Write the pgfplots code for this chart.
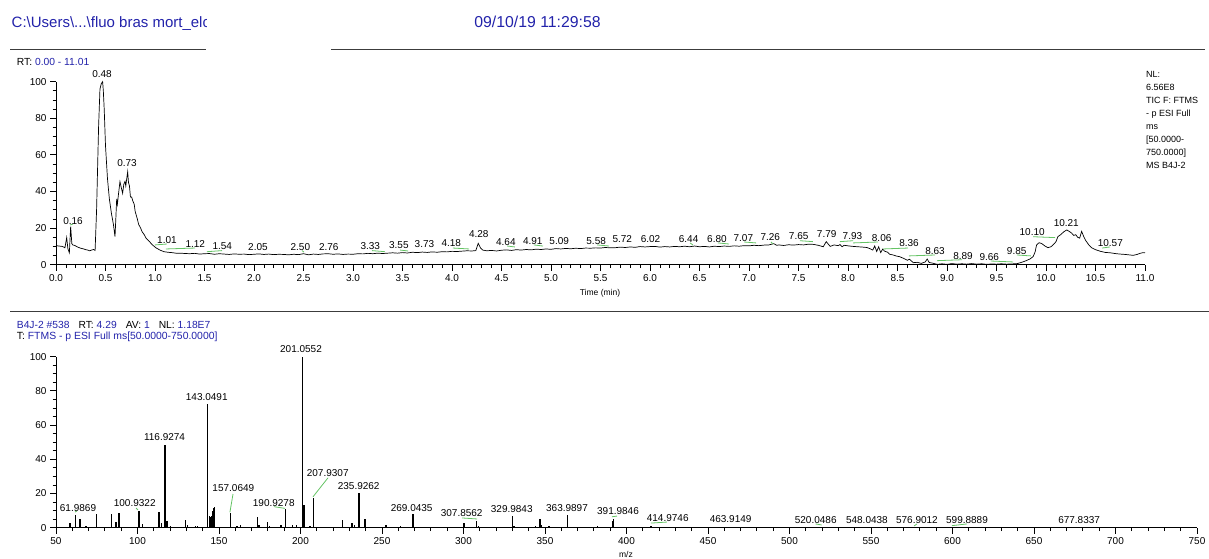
\documentclass[border=0pt]{standalone}
\usepackage{pgfplots}
\pgfplotsset{compat=1.18}
\usepackage{fontspec}
\setmainfont{Liberation Sans}
\definecolor{xblue}{RGB}{34,34,170}
\definecolor{xgreen}{RGB}{100,195,100}
\definecolor{xline}{RGB}{60,60,60}

\pgfplotsset{
  xcal/.style={
    scale only axis,
    axis x line=bottom, axis y line=left,
    axis line style={-, line width=0.8pt},
    tick align=outside,
    major tick length=6pt, minor tick length=3.5pt,
    every tick/.style={black, line width=0.8pt},
    tick label style={font=\fontsize{10}{12}\selectfont},
    /pgf/number format/assume math mode=true,
    ymin=0, ymax=100, ytick={0,20,40,60,80,100}, minor y tick num=3,
    clip=false,
  },
}
\tikzset{
  lbl/.style={font=\fontsize{10}{12}\selectfont, inner sep=0pt, anchor=center},
  gl/.style={xgreen, line width=0.8pt},
}

\begin{document}
\begin{tikzpicture}
\useasboundingbox (0pt,0pt) rectangle (1209pt,559pt);

% ---------- header ----------
\begin{scope}
\clip (0pt,515pt) rectangle (206pt,559pt);
\node[anchor=base west, inner sep=0pt, font=\fontsize{15}{18}\selectfont, text=xblue] at (11.5pt,531.7pt) {C:\textbackslash Users\textbackslash ...\textbackslash fluo bras mort\_elc};
\end{scope}
\node[anchor=base, inner sep=0pt, font=\fontsize{15.8}{18}\selectfont, text=xblue] at (537.5pt,531.7pt) {09/10/19 11:29:58};
\draw[xline, line width=0.8pt] (10pt,510pt) -- (206pt,510pt);
\draw[xline, line width=0.8pt] (331pt,510pt) -- (1205pt,510pt);
\draw[xline, line width=0.8pt] (10pt,248pt) -- (1209pt,248pt);

\node[anchor=base west, inner sep=0pt, font=\fontsize{10.3}{12}\selectfont] at (16.7pt,493.5pt) {RT:\ \textcolor{xblue}{0.00 - 11.01}};

\begin{scope}[every node/.style={anchor=base west, inner sep=0pt, font=\fontsize{9}{11}\selectfont}]
\node at (1146pt,481.5pt) {NL:};
\node at (1146pt,468.8pt) {6.56E8};
\node at (1146pt,455.3pt) {TIC F: FTMS};
\node at (1146pt,442.0pt) {- p ESI Full};
\node at (1146pt,429.0pt) {ms};
\node at (1146pt,416.2pt) {[50.0000-};
\node at (1146pt,403.4pt) {750.0000]};
\node at (1146pt,390.8pt) {MS B4J-2};
\end{scope}

\node[inner sep=0pt, font=\fontsize{8.5}{10}\selectfont] at (600pt,266pt) {Time (min)};

\node[anchor=base west, inner sep=0pt, font=\fontsize{10.3}{12}\selectfont] at (16.7pt,230.5pt) {\textcolor{xblue}{B4J-2 \#538}\hspace{9pt}RT:\ \textcolor{xblue}{4.29}\hspace{9pt}AV:\ \textcolor{xblue}{1}\hspace{9pt}NL:\ \textcolor{xblue}{1.18E7}};
\node[anchor=base west, inner sep=0pt, font=\fontsize{10.4}{12}\selectfont] at (16.7pt,219pt) {T:\ \textcolor{xblue}{FTMS - p ESI Full ms[50.0000-750.0000]}};

\node[inner sep=0pt, font=\fontsize{8.5}{10}\selectfont] at (626pt,5pt) {m/z};

% ---------- chromatogram ----------
\begin{axis}[xcal, at={(56pt,294.3pt)}, anchor=south west,
  width=1089pt, height=183pt, xmin=0, xmax=11,
  xtick={0,0.5,1,1.5,2,2.5,3,3.5,4,4.5,5,5.5,6,6.5,7,7.5,8,8.5,9,9.5,10,10.5,11},
  minor x tick num=4,
  xticklabel style={/pgf/number format/.cd, fixed, fixed zerofill, precision=1}]
\addplot[black, line width=0.7pt, mark=none] coordinates {
(0.00,10.4)(0.03,10.2)(0.06,10.0)(0.08,9.6)(0.09,9.2)(0.108,14.8)(0.12,8.8)(0.135,6.5)
(0.148,20.8)(0.16,11.5)(0.17,10.8)(0.19,10.5)(0.22,9.6)(0.25,9.0)(0.28,8.6)(0.30,8.2)
(0.32,8.0)(0.34,7.6)(0.36,8.0)(0.38,8.3)(0.395,7.8)(0.41,30)(0.43,75)(0.444,96)
(0.458,99)(0.471,100)(0.478,95)(0.487,85)(0.50,65)(0.52,47)(0.539,36)(0.56,28)
(0.58,22)(0.596,15.3)(0.605,26)(0.613,36)(0.62,33)(0.63,38)(0.646,45.4)(0.66,42)
(0.673,39)(0.685,44)(0.697,45.5)(0.705,43)(0.712,46)(0.724,50.8)(0.732,45)(0.742,43)
(0.752,37)(0.764,37)(0.775,35)(0.79,33)(0.80,29)(0.82,25.3)(0.835,22)(0.855,20)
(0.87,18)(0.89,16.5)(0.91,14.5)(0.94,12.9)(0.97,11)(1.01,9.2)(1.05,8)(1.09,7.1)
(1.13,6.8)(1.17,6.6)(1.21,6.3)(1.28,6.2)(1.35,6.0)(1.40,6.2)(1.45,5.8)(1.50,6.0)
(1.55,6.1)(1.60,5.7)(1.65,6.0)(1.70,5.8)(1.75,5.6)(1.80,5.9)(1.85,5.7)(1.90,5.8)
(1.95,5.5)(2.00,5.7)(2.05,5.9)(2.10,5.6)(2.15,5.8)(2.20,5.5)(2.25,5.7)(2.30,5.6)
(2.35,5.4)(2.40,5.7)(2.45,5.5)(2.50,6.0)(2.55,5.4)(2.60,5.8)(2.65,5.6)(2.70,5.9)
(2.75,6.0)(2.80,5.7)(2.85,5.9)(2.90,5.6)(2.95,5.8)(3.00,5.7)(3.05,6.0)(3.10,5.9)
(3.15,6.2)(3.20,6.0)(3.25,6.3)(3.30,6.1)(3.35,6.3)(3.40,6.5)(3.45,6.3)(3.50,6.6)
(3.55,6.4)(3.60,6.8)(3.65,6.6)(3.70,6.9)(3.75,6.7)(3.80,7.0)(3.85,6.8)(3.90,7.1)
(3.95,7.0)(4.00,7.3)(4.05,7.2)(4.10,7.4)(4.15,7.6)(4.20,7.5)(4.24,7.7)(4.265,11.7)
(4.29,9.0)(4.31,8.0)(4.35,7.6)(4.40,7.8)(4.45,7.5)(4.50,7.9)(4.55,8.1)(4.60,7.8)
(4.65,8.2)(4.70,8.0)(4.75,8.3)(4.80,8.1)(4.85,8.5)(4.90,8.3)(4.95,8.6)(5.00,8.4)
(5.05,8.8)(5.10,8.6)(5.15,8.9)(5.20,8.7)(5.25,9.0)(5.30,8.8)(5.35,9.1)(5.40,9.0)
(5.45,9.2)(5.50,9.1)(5.55,9.4)(5.60,9.2)(5.65,9.3)(5.70,9.6)(5.75,9.4)(5.80,9.7)
(5.85,9.5)(5.90,9.9)(5.95,9.7)(6.00,9.9)(6.05,10.0)(6.10,9.6)(6.15,9.9)(6.20,9.7)
(6.25,10.0)(6.30,9.8)(6.35,10.1)(6.40,9.8)(6.45,10.2)(6.50,9.8)(6.55,10.0)(6.60,9.7)
(6.65,10.1)(6.70,9.9)(6.75,10.2)(6.80,10.0)(6.85,10.3)(6.90,10.1)(6.95,10.4)(7.00,10.3)
(7.05,10.6)(7.10,10.4)(7.15,10.7)(7.20,10.8)(7.25,11.5)(7.28,10.6)(7.30,10.8)(7.35,10.5)
(7.40,10.9)(7.45,10.7)(7.50,11.0)(7.55,10.8)(7.60,11.2)(7.65,11.1)(7.70,10.6)(7.75,9.8)
(7.78,12.6)(7.82,10.0)(7.86,10.8)(7.90,10.4)(7.92,11.0)(7.94,9.8)(7.96,10.6)(8.00,10.3)
(8.05,10.0)(8.10,9.8)(8.15,9.6)(8.19,9.4)(8.22,8.8)(8.25,8.0)(8.27,10.2)(8.29,7.2)
(8.31,9.8)(8.33,6.6)(8.35,8.5)(8.37,7.4)(8.40,6.8)(8.42,5.7)(8.45,5.4)(8.49,4.7)
(8.52,4.4)(8.56,3.5)(8.60,2.4)(8.62,3.0)(8.66,1.1)(8.70,1.3)(8.74,0.7)(8.78,1.5)
(8.80,3.1)(8.82,1.2)(8.85,0.9)(8.90,0.2)(8.95,0.5)(9.00,0.2)(9.05,0.6)(9.10,0.3)
(9.15,0.5)(9.20,0.3)(9.25,0.6)(9.30,0.3)(9.35,0.5)(9.40,0.2)(9.45,0.4)(9.50,0.3)
(9.55,0.5)(9.60,0.3)(9.65,0.4)(9.71,0.6)(9.76,1.4)(9.80,2.2)(9.84,3.2)(9.87,4.4)
(9.89,7.0)(9.905,10.8)(9.93,12.0)(9.955,11.6)(9.99,10.2)(10.02,9.3)(10.05,9.8)(10.07,10.8)
(10.10,12.5)(10.12,15.3)(10.15,16.5)(10.18,18.0)(10.21,19.0)(10.24,18.0)(10.26,17.2)(10.28,16.0)
(10.30,16.4)(10.32,15.0)(10.34,14.5)(10.36,18.2)(10.38,15.5)(10.40,13.3)(10.43,11.0)(10.46,9.3)
(10.50,8.2)(10.55,7.3)(10.60,6.7)(10.65,6.5)(10.71,6.0)(10.75,5.8)(10.80,5.6)(10.85,5.3)
(10.88,5.1)(10.92,5.6)(10.95,6.2)(10.98,6.6)(11.00,6.5)
};
% green leader lines
\draw[gl] (0.141,21.7) -- (0.172,22.2);
\draw[gl] (1.0,10.8) -- (1.121,11.3);
\draw[gl] (1.111,8.6) -- (1.404,9.1);
\draw[gl] (1.525,7.1) -- (1.677,7.7);
\draw[gl] (2.485,7.7) -- (2.505,6.9);
\draw[gl] (3.192,7.7) -- (3.323,7.1);
\draw[gl] (3.475,8.0) -- (3.556,7.5);
\draw[gl] (4.01,9.1) -- (4.172,8.6);
\draw[gl] (4.556,10.2) -- (4.636,9.7);
\draw[gl] (4.828,10.8) -- (4.919,10.2);
\draw[gl] (5.465,10.8) -- (5.586,10.2);
\draw[gl] (6.404,11.9) -- (6.434,10.8);
\draw[gl] (6.687,11.9) -- (6.798,11.3);
\draw[gl] (6.95,12.4) -- (7.071,11.9);
\draw[gl] (7.222,12.4) -- (7.242,11.3);
\draw[gl] (7.515,13.1) -- (7.646,12.6);
\draw[gl] (7.919,12.6) -- (8.051,13.1);
\draw[gl] (8.051,11.9) -- (8.303,12.4);
\draw[gl] (8.354,8.6) -- (8.606,9.1);
\draw[gl] (8.616,4.8) -- (8.879,5.3);
\draw[gl] (8.899,2.2) -- (9.152,2.7);
\draw[gl] (9.444,2.0) -- (9.667,1.5);
\draw[gl] (9.707,5.3) -- (9.848,4.8);
\draw[gl] (9.869,15.3) -- (10.091,14.8);
\draw[gl] (10.566,9.1) -- (10.646,9.7);
% peak labels
\node[lbl] at (0.465,104.2) {0.48};
\node[lbl] at (0.717,55.6) {0.73};
\node[lbl] at (0.172,23.9) {0.16};
\node[lbl] at (1.121,13.5) {1.01};
\node[lbl] at (1.407,11.3) {1.12};
\node[lbl] at (1.68,10.4) {1.54};
\node[lbl] at (2.04,9.8) {2.05};
\node[lbl] at (2.468,9.8) {2.50};
\node[lbl] at (2.755,9.8) {2.76};
\node[lbl] at (3.175,10.4) {3.33};
\node[lbl] at (3.463,10.8) {3.55};
\node[lbl] at (3.722,11.1) {3.73};
\node[lbl] at (3.993,11.7) {4.18};
\node[lbl] at (4.271,16.6) {4.28};
\node[lbl] at (4.544,12.6) {4.64};
\node[lbl] at (4.816,13.1) {4.91};
\node[lbl] at (5.083,13.1) {5.09};
\node[lbl] at (5.456,13.1) {5.58};
\node[lbl] at (5.72,14.0) {5.72};
\node[lbl] at (6.005,14.0) {6.02};
\node[lbl] at (6.39,14.0) {6.44};
\node[lbl] at (6.676,14.0) {6.80};
\node[lbl] at (6.943,14.8) {7.07};
\node[lbl] at (7.215,15.3) {7.26};
\node[lbl] at (7.502,15.8) {7.65};
\node[lbl] at (7.785,16.8) {7.79};
\node[lbl] at (8.045,15.8) {7.93};
\node[lbl] at (8.34,14.8) {8.06};
\node[lbl] at (8.616,11.7) {8.36};
\node[lbl] at (8.879,7.7) {8.63};
\node[lbl] at (9.162,4.8) {8.89};
\node[lbl] at (9.427,4.4) {9.66};
\node[lbl] at (9.704,7.5) {9.85};
\node[lbl] at (9.86,18.0) {10.10};
\node[lbl] at (10.205,23.0) {10.21};
\node[lbl] at (10.65,12.0) {10.57};
\end{axis}

% ---------- spectrum ----------
\begin{axis}[xcal, at={(56pt,31.3pt)}, anchor=south west,
  width=1141pt, height=171pt, xmin=50, xmax=750,
  xtick={50,100,150,200,250,300,350,400,450,500,550,600,650,700,750},
  minor x tick num=4]
% baseline noise
\addplot[ycomb, black, line width=0.7pt, mark=none] coordinates {
(52,0.5)(55,0.4)(57,0.6)(60,0.5)(63,0.4)(66,0.6)(70,0.5)(72,0.4)(77,0.5)(79,0.6)
(81,0.4)(83,0.5)(90,0.5)(92,0.4)(94,0.6)(96,0.5)(98,0.4)(105,0.6)(107,0.5)(109,0.4)
(111,0.6)(122,0.5)(124,0.4)(126,0.6)(128,0.5)(132,0.5)(134,0.4)(139,0.6)(141,0.5)(149,0.6)
(151,0.4)(153,0.5)(155,0.6)(159,0.5)(165,0.5)(167,0.6)(169,0.4)(171,0.5)(176,0.5)(178,0.6)
(183,0.4)(185,0.5)(187,0.6)(193,0.5)(199,0.6)(204,0.5)(210,0.6)(212,0.4)(214,0.5)(216,0.6)
(218,0.4)(220,0.5)(222,0.6)(224,0.4)(228,0.5)(230,0.6)(237,0.5)(242,0.6)(244,0.4)(246,0.5)
(248,0.6)(250,0.4)(255,0.5)(258,0.6)(264,0.5)(266,0.4)(272,0.5)(275,0.6)(278,0.4)(281,0.5)
(284,0.6)(287,0.5)(290,0.4)(293,0.6)(296,0.5)(303,0.5)(312,0.6)(315,0.4)(318,0.5)(321,0.6)
(324,0.4)(327,0.5)(334,0.6)(337,0.5)(340,0.4)(342,0.6)(350,0.5)(356,0.6)(359,0.4)(361,0.5)
(366,0.6)(369,0.5)(372,0.4)(375,0.6)(378,0.5)(385,0.5)(388,0.6)(395,0.5)(398,0.4)(401,0.6)
(404,0.5)(407,0.4)(410,0.6)(413,0.5)(418,0.5)(422,0.4)(426,0.5)(430,0.6)(435,0.4)(440,0.5)
(448,0.4)(455,0.5)(462,0.4)(470,0.5)(478,0.4)(485,0.5)(495,0.4)(505,0.5)(512,0.4)(518,0.5)
};
% peaks
\addplot[ycomb, black, line width=1.2pt, mark=none] coordinates {
(58.6,2.6)(61.99,7.4)(64.7,4.9)(68.4,1.2)(75.0,7.8)(84.2,7.8)(86.8,3.2)(88.7,8.8)
(100.93,10.0)(103.2,2.0)(113.2,9.4)(114.6,3.0)(116.93,48.4)(118.1,3.9)(120.4,1.2)
(129.5,4.6)(130.5,1.3)(135.5,1.2)(137.0,1.2)(143.05,72.2)(144.0,6.8)(144.6,6.5)
(145.5,7.0)(146.2,10.0)(146.8,11.3)(147.3,12.0)(157.06,8.4)(161,1.0)(163,1.6)
(173.5,6.1)(174.5,1.4)(179.7,3.5)(181,1.0)(188,1.5)(190.93,11.0)(195,1.5)(197.5,1.5)
(201.06,100)(202.1,13.3)(205.8,1.2)(207.93,17.6)(225.9,4.3)(231.6,2.5)(233,1.3)
(235.93,20.1)(239.6,4.8)(252.4,1.4)(261.5,1.0)(269.04,7.8)(300.3,2.5)(307.86,3.8)
(309,1.0)(329.98,6.8)(331,1.0)(344.3,1.2)(346.9,5.1)(348,1.5)(352,1.2)(353,1.0)
(363.99,7.2)(382,0.8)(391.5,4.0)(391.98,5.1)(415,1.2)
};
% green leader lines
\draw[gl] (61.7,9.2) -- (62.9,9.8);
\draw[gl] (99.1,11.5) -- (100.3,10.4);
\draw[gl] (158.6,19.7) -- (156.7,9.0);
\draw[gl] (183.7,12.3) -- (190.5,11.3);
\draw[gl] (216.9,29.2) -- (207.7,18.1);
\draw[gl] (299.1,5.7) -- (308.3,5.1);
\draw[gl] (391.1,6.4) -- (394.2,6.8);
\draw[gl] (415.0,2.7) -- (424.8,3.3);
\draw[gl] (516.0,2.2) -- (519.7,1.6);
\draw[gl] (576.4,1.0) -- (578.2,2.2);
\draw[gl] (599.7,1.2) -- (608.9,2.2);
% labels
\node[lbl] at (63.5,11.7) {61.9869};
\node[lbl] at (98.3,14.6) {100.9322};
\node[lbl] at (116.6,52.9) {116.9274};
\node[lbl] at (142.5,76.6) {143.0491};
\node[lbl] at (158.8,23.0) {157.0649};
\node[lbl] at (183.6,14.6) {190.9278};
\node[lbl] at (200.3,104.3) {201.0552};
\node[lbl] at (216.7,32.2) {207.9307};
\node[lbl] at (235.7,24.6) {235.9262};
\node[lbl] at (268.2,11.7) {269.0435};
\node[lbl] at (298.9,8.4) {307.8562};
\node[lbl] at (329.6,10.9) {329.9843};
\node[lbl] at (363.5,11.7) {363.9897};
\node[lbl] at (394.8,9.9) {391.9846};
\node[lbl] at (425.3,5.8) {414.9746};
\node[lbl] at (463.9,5.1) {463.9149};
\node[lbl] at (516.1,4.5) {520.0486};
\node[lbl] at (547.5,4.5) {548.0438};
\node[lbl] at (578.2,4.5) {576.9012};
\node[lbl] at (608.9,4.5) {599.8889};
\node[lbl] at (677.7,4.5) {677.8337};
\end{axis}
\end{tikzpicture}
\end{document}
